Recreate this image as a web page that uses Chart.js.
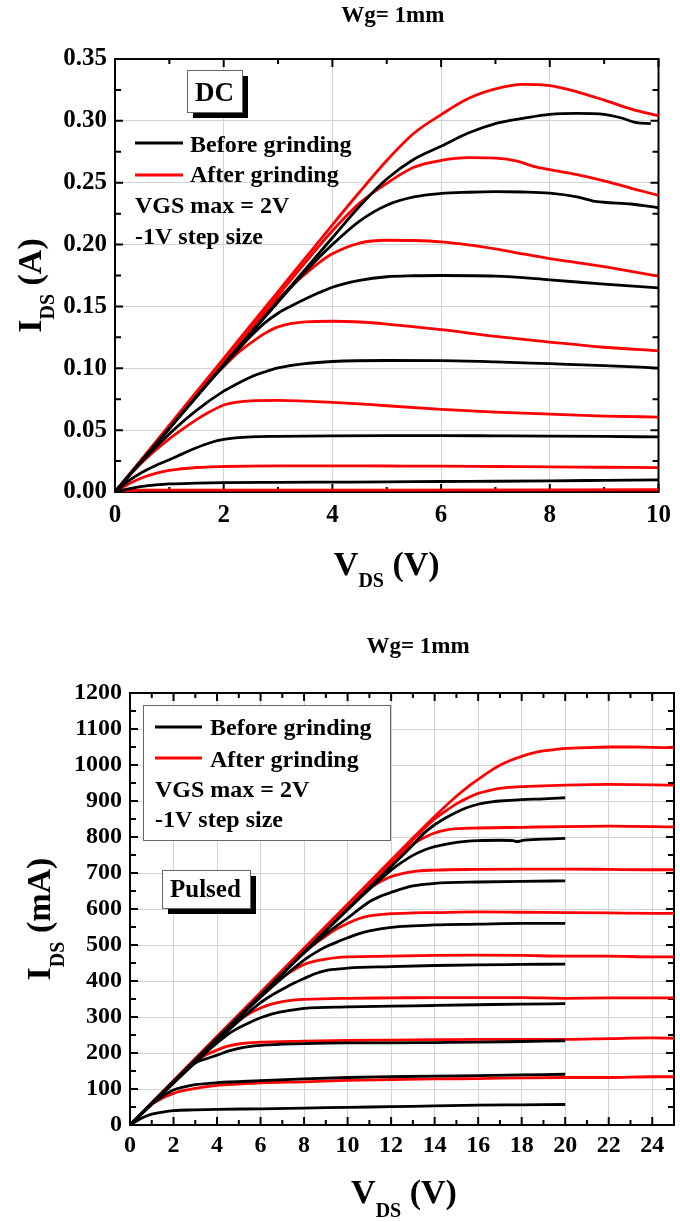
<!DOCTYPE html>
<html><head><meta charset="utf-8">
<script src="https://cdn.jsdelivr.net/npm/chart.js@4.4.1/dist/chart.umd.min.js"></script>
<style>
html,body{margin:0;padding:0;background:#fff;width:680px;height:1222px;overflow:hidden}
.box{position:absolute;left:0;width:680px;height:611px}
canvas{display:block}
</style></head><body>
<div class="box" style="top:0"><canvas id="dc" width="680" height="611"></canvas></div>
<div class="box" style="top:611px"><canvas id="pu" width="680" height="611"></canvas></div>
<script>
const FONT = "'Liberation Serif','Times New Roman',Times,serif";

// ---------- DC (VDS in V, IDS in A) ----------
const dcXTicks = [0,2,4,6,8,10];
const dcYTicks = [0,0.05,0.10,0.15,0.20,0.25,0.30,0.35];
const dcXMinor = [1,3,5,7,9];
const dcYMinor = [0.025,0.075,0.125,0.175,0.225,0.275,0.325];

const dcBefore1 = [[0,0],[0.25,0.0025],[0.5,0.0045],[0.75,0.0057],[1,0.0065],[1.5,0.0071],[2,0.0075],[3,0.0078],[4,0.008],[5,0.0082],[6,0.0085],[7,0.0087],[8,0.009],[9,0.0094],[10,0.0098]];
const dcBefore2 = [[0,0],[0.25,0.009],[0.5,0.016],[0.75,0.0215],[1,0.026],[1.25,0.031],[1.5,0.0358],[1.75,0.0398],[2,0.0425],[2.5,0.0446],[3,0.045],[4,0.0454],[5,0.0456],[6,0.0456],[7,0.0454],[8,0.0452],[9,0.0449],[10,0.0445]];
const dcBefore3 = [[0,0],[0.5,0.025],[1,0.047],[1.5,0.066],[2,0.0815],[2.25,0.0875],[2.5,0.093],[2.75,0.097],[3,0.1003],[3.5,0.1038],[4,0.1055],[5,0.1063],[6,0.1062],[7,0.1052],[8,0.1037],[9,0.1022],[10,0.1002]];
const dcBefore4 = [[0,0],[0.5,0.0257],[1,0.0513],[1.5,0.077],[2,0.102],[2.5,0.126],[2.75,0.1365],[3,0.1445],[3.25,0.1505],[3.5,0.156],[3.75,0.161],[4,0.1655],[4.5,0.171],[5,0.174],[5.5,0.1748],[6,0.175],[7,0.1745],[8,0.1715],[9,0.168],[10,0.165]];
const dcBefore5 = [[0,0],[0.5,0.0257],[1,0.0515],[1.5,0.0772],[2,0.103],[2.5,0.1285],[3,0.1535],[3.5,0.178],[4,0.2],[4.5,0.219],[5,0.2318],[5.5,0.2385],[6,0.2413],[6.5,0.2423],[7,0.2428],[7.5,0.2425],[8,0.2415],[8.5,0.2385],[8.8,0.2352],[9,0.2342],[9.5,0.2328],[10,0.2297]];
const dcBefore6 = [[0,0],[1,0.0515],[2,0.103],[3,0.1545],[3.5,0.18],[4,0.2055],[4.5,0.231],[5,0.253],[5.5,0.269],[6,0.2795],[6.5,0.2902],[7,0.2978],[7.3,0.3005],[7.5,0.302],[8,0.3052],[8.5,0.306],[9,0.3052],[9.3,0.3025],[9.6,0.2985],[9.86,0.2978]];
const dcAfter0 = [[0,0],[0.5,0.0015],[5,0.0015],[10,0.0018]];
const dcAfter1 = [[0,0],[0.25,0.0065],[0.5,0.0115],[0.75,0.015],[1,0.0174],[1.5,0.0198],[2,0.0206],[3,0.0211],[4,0.0211],[5,0.021],[6,0.0209],[7,0.0206],[8,0.0203],[9,0.02],[10,0.0197]];
const dcAfter2 = [[0,0],[0.25,0.0125],[0.5,0.024],[0.75,0.034],[1,0.043],[1.25,0.051],[1.5,0.0585],[1.75,0.065],[2,0.0703],[2.25,0.0727],[2.5,0.0737],[3,0.074],[3.5,0.0734],[4,0.0725],[4.5,0.0713],[5,0.0697],[6,0.0668],[7,0.0645],[8,0.063],[9,0.0614],[10,0.0606]];
const dcAfter3 = [[0,0],[0.5,0.0265],[1,0.053],[1.5,0.079],[1.75,0.091],[2,0.1015],[2.25,0.112],[2.5,0.1205],[2.75,0.128],[3,0.1335],[3.5,0.1375],[4,0.138],[4.5,0.1374],[5,0.1357],[6,0.1312],[7,0.1258],[8,0.1212],[9,0.117],[10,0.1142]];
const dcAfter4 = [[0,0],[0.5,0.0265],[1,0.053],[1.5,0.0795],[2,0.106],[2.5,0.1315],[3,0.156],[3.25,0.1665],[3.5,0.1762],[3.75,0.1852],[4,0.1925],[4.5,0.2012],[5,0.2035],[5.5,0.2033],[6,0.2022],[6.5,0.1998],[7,0.1965],[7.5,0.1925],[8,0.1887],[8.5,0.1855],[9,0.1822],[9.5,0.1783],[10,0.1745]];
const dcAfter5 = [[0,0],[1,0.053],[2,0.106],[3,0.159],[3.5,0.1855],[4,0.2112],[4.5,0.2335],[5,0.2495],[5.5,0.2625],[6,0.268],[6.5,0.2702],[7,0.2698],[7.4,0.2675],[7.7,0.2632],[8,0.2605],[8.5,0.2565],[9,0.2515],[9.5,0.2455],[10,0.2398]];
const dcAfter6 = [[0,0],[1,0.054],[2,0.108],[3,0.162],[3.5,0.189],[4,0.216],[4.5,0.2425],[5,0.268],[5.5,0.29],[6,0.305],[6.5,0.318],[7,0.3258],[7.5,0.3295],[8,0.3285],[8.5,0.3235],[9,0.3168],[9.5,0.3095],[10,0.304]];

// ---------- Pulsed (VDS in V, IDS in mA) ----------
const puXTicks = [0,2,4,6,8,10,12,14,16,18,20,22,24];
const puYTicks = [0,100,200,300,400,500,600,700,800,900,1000,1100,1200];
const puXMinor = [1,3,5,7,9,11,13,15,17,19,21,23];
const puYMinor = [50,150,250,350,450,550,650,750,850,950,1050,1150];

const puBefore1 = [[0,0],[0.5,18],[1,30],[1.5,36],[2,40],[3,42],[4,43.5],[6,45],[8,47],[10,49],[12,51],[14,53],[16,55],[18,56],[20,57]];
const puBefore2 = [[0,0],[0.5,30],[1,58],[1.5,80],[2,97],[2.5,106],[3,112],[4,117.5],[6,123],[8,128],[10,132],[12,134],[14,136],[16,137],[18,139],[20,141]];
const puBefore3 = [[0,0],[1,59],[2,118],[3,172],[3.5,184],[4,194],[4.5,205],[5,213],[6,221],[8,226],[10,228],[12,228],[14,229],[16,230],[18,232],[20,234]];
const puBefore4 = [[0,0],[1,58],[2,116],[3,174],[4,228],[4.5,252],[5,270],[5.5,285],[6,298],[6.5,308],[7,315],[7.5,320],[8,324],[10,328],[12,330],[14,332],[16,334],[18,336],[20,337]];
const puBefore5 = [[0,0],[2,118],[4,234],[6,340],[6.5,360],[7,377],[7.5,393],[8,407],[8.5,420],[9,429],[9.5,433],[10,436],[12,440],[14,443],[16,445],[18,446],[20,447]];
const puBefore6 = [[0,0],[2,119],[4,238],[6,355],[8,458],[8.5,478],[9,495],[9.5,508],[10,520],[10.5,531],[11,539],[11.5,545],[12,549],[13,553],[14,556],[16,558],[18,560],[20,560]];
const puBefore7 = [[0,0],[2,120],[4,240],[6,360],[8,478],[9,530],[10,575],[10.5,598],[11,620],[11.5,635],[12,646],[13,664],[14,671],[16,675],[18,677],[20,678]];
const puBefore8 = [[0,0],[2,120],[4,240],[6,360],[8,480],[10,598],[11,655],[12,708],[12.5,730],[13,749],[13.5,763],[14,773],[15,785],[16,790],[17,791],[17.6,790],[17.8,787],[18,790],[19,794],[20,796]];
const puBefore9 = [[0,0],[2,120],[4,240],[6,360],[8,480],[10,600],[12,718],[13,778],[13.5,810],[14,834],[14.5,853],[15,869],[15.5,882],[16,891],[16.7,898],[17,900],[18,904],[19,906],[20,909]];
const puAfter1 = [[0,0],[0.5,30],[1,57],[1.5,75],[2,88],[2.5,96],[3,102],[4,110],[6,117],[8,120],[10,124],[12,126],[14,128],[16,129],[18,131],[20,132],[22,132],[24,134],[25,134]];
const puAfter2 = [[0,0],[1,60],[2,120],[3,176],[3.5,195],[4,208],[4.5,219],[5,225],[6,230],[8,233],[10,235],[12,236],[14,237],[16,238],[18,238],[20,238],[22,240],[24,242],[25,241]];
const puAfter3 = [[0,0],[1,60],[2,121],[3,181],[4,240],[5,290],[5.5,310],[6,325],[6.5,336],[7,343],[7.5,347],[8,349],[10,352],[12,353],[14,354],[16,354],[18,354],[20,352],[22,353],[24,353],[25,353]];
const puAfter4 = [[0,0],[2,121],[4,242],[6,360],[6.5,388],[7,410],[7.5,430],[8,446],[8.5,455],[9,461],[9.5,465],[10,467],[12,469],[14,471],[16,472],[18,471],[20,469],[22,469],[24,467],[25,467]];
const puAfter5 = [[0,0],[2,121],[4,242],[6,363],[8,480],[9,525],[9.5,545],[10,560],[10.5,573],[11,581],[12,587],[13,589],[14,590],[16,592],[18,591],[20,590],[22,589],[24,588],[25,588]];
const puAfter6 = [[0,0],[2,122],[4,244],[6,366],[8,488],[10,605],[10.5,633],[11,658],[11.5,676],[12,690],[13,704],[14,708],[16,710],[18,711],[20,711],[22,710],[24,709],[25,709]];
const puAfter7 = [[0,0],[2,122],[4,244],[6,366],[8,488],[10,610],[11,668],[12,726],[12.5,755],[13,780],[13.5,798],[14,811],[14.5,819],[15,823],[16,825],[18,827],[20,829],[22,830],[24,829],[25,828]];
const puAfter8 = [[0,0],[2,122],[4,245],[6,367],[8,490],[10,612],[12,733],[13,792],[14,850],[14.5,872],[15,892],[15.5,908],[16,921],[16.5,929],[17,935],[18,940],[19,942],[20,944],[22,946],[24,945],[25,944]];
const puAfter9 = [[0,0],[2,123],[4,246],[6,368],[8,491],[10,613],[12,736],[13,797],[14,857],[15,913],[15.5,938],[16,960],[16.5,981],[17,999],[17.5,1013],[18,1024],[18.5,1033],[19,1039],[19.5,1043],[20,1046],[21,1048],[22,1050],[23,1050],[24,1049],[25,1048]];

const BLACK = '#000000', RED = '#ff0000';

function ds(arr, color, w) {
  return { data: arr.map(p => ({x: p[0], y: p[1]})), borderColor: color, backgroundColor: color,
    borderWidth: w, pointRadius: 0, fill: false, cubicInterpolationMode: 'monotone' };
}
function font(size) { return `bold ${size}px ${FONT}`; }

function drawRich(ctx, parts, x, y) {
  let total = 0;
  parts.forEach(p => { ctx.font = font(p[1]); p.w = ctx.measureText(p[0]).width; total += p.w; });
  let cx = x - total / 2;
  ctx.textAlign = 'left'; ctx.textBaseline = 'alphabetic';
  parts.forEach(p => { ctx.font = font(p[1]); ctx.fillText(p[0], cx, y + p[2]); cx += p.w; });
}

function shadowBox(ctx, x, y, w, h, off) {
  ctx.fillStyle = '#000'; ctx.fillRect(x + off, y + off, w, h);
  ctx.fillStyle = '#fff'; ctx.fillRect(x, y, w, h);
  ctx.strokeStyle = '#666'; ctx.lineWidth = 1; ctx.strokeRect(x + 0.5, y + 0.5, w, h);
}

function framePlugin(cfg) {
  return {
    id: 'frame',
    beforeDatasetsDraw(chart) {
      const {ctx, chartArea: a, scales: {x, y}} = chart;
      ctx.save();
      ctx.strokeStyle = '#000'; ctx.lineWidth = 2;
      ctx.beginPath();
      const tx = (vals, len) => vals.forEach(v => { const p = x.getPixelForValue(v);
        ctx.moveTo(p, a.bottom); ctx.lineTo(p, a.bottom - len); ctx.moveTo(p, a.top); ctx.lineTo(p, a.top + len); });
      const ty = (vals, len) => vals.forEach(v => { const p = y.getPixelForValue(v);
        ctx.moveTo(a.left, p); ctx.lineTo(a.left + len, p); ctx.moveTo(a.right, p); ctx.lineTo(a.right - len, p); });
      tx(cfg.xMajor, 8); tx(cfg.xMinor, 5); ty(cfg.yMajor, 8); ty(cfg.yMinor, 6);
      ctx.stroke();
      ctx.lineWidth = 2;
      ctx.strokeRect(a.left, a.top, a.right - a.left, a.bottom - a.top);
      ctx.restore();
    },
    afterDraw(chart) {
      const {ctx, chartArea: a} = chart;
      ctx.save();
      ctx.fillStyle = '#000';
      cfg.decor(ctx, a);
      ctx.restore();
    }
  };
}

function makeChart(id, o) {
  const fmt = o.fmt;
  return new Chart(document.getElementById(id), {
    type: 'line',
    data: { datasets: o.datasets },
    options: {
      responsive: false, animation: false, events: [],
      layout: { padding: o.padding },
      plugins: { legend: { display: false }, tooltip: { enabled: false }, title: { display: false } },
      scales: {
        x: { type: 'linear', min: o.xMin, max: o.xMax,
          afterBuildTicks: s => { s.ticks = o.xTicks.map(v => ({value: v})); },
          afterFit: s => { s.height = o.xHeight; },
          ticks: { font: { family: FONT, size: o.tickSize, weight: 'bold' }, color: '#000', padding: o.xPad,
            maxRotation: 0, autoSkip: false, includeBounds: false, callback: v => String(v) },
          grid: { color: '#d2d2d2', lineWidth: 1, drawTicks: false }, border: { display: false } },
        y: { type: 'linear', min: o.yMin, max: o.yMax,
          afterBuildTicks: s => { s.ticks = o.yTicks.map(v => ({value: v})); },
          afterFit: s => { s.width = o.yWidth; },
          ticks: { font: { family: FONT, size: o.tickSize, weight: 'bold' }, color: '#000', padding: 8,
            autoSkip: false, includeBounds: false, callback: v => fmt(v) },
          grid: { color: '#d2d2d2', lineWidth: 1, drawTicks: false }, border: { display: false } }
      }
    },
    plugins: [framePlugin(o)]
  });
}

const LW = 2.8;
makeChart('dc', {
  xMin: 0, xMax: 10, yMin: 0, yMax: 0.35, xTicks: dcXTicks, yTicks: dcYTicks,
  xMajor: dcXTicks, xMinor: dcXMinor, yMajor: dcYTicks, yMinor: dcYMinor,
  fmt: v => v.toFixed(2), tickSize: 25, xPad: 9, xHeight: 119, yWidth: 115,
  padding: { left: 0, right: 13, top: 59, bottom: 0 },
  datasets: [dcBefore1, dcBefore2, dcBefore3, dcBefore4, dcBefore5, dcBefore6].map(d => ds(d, BLACK, LW))
    .concat([dcAfter0, dcAfter1, dcAfter2, dcAfter3, dcAfter4, dcAfter5, dcAfter6].map(d => ds(d, RED, LW))),
  decor(ctx, a) {
    const cx = (a.left + a.right) / 2, cy = (a.top + a.bottom) / 2;
    ctx.textAlign = 'center'; ctx.font = font(23); ctx.fillText('Wg= 1mm', cx + 6, 22);
    drawRich(ctx, [['V', 34, 0], ['DS', 20, 12], [' (V)', 34, 0]], cx, 575);
    ctx.save(); ctx.translate(41, cy + 10); ctx.rotate(-Math.PI / 2);
    drawRich(ctx, [['I', 34, 0], ['DS', 20, 13], [' (A)', 34, 0]], 0, 0); ctx.restore();
    shadowBox(ctx, a.left + 72, a.top + 11, 55, 42, 6);
    ctx.fillStyle = '#000'; ctx.textAlign = 'center'; ctx.font = font(27);
    ctx.fillText('DC', a.left + 99.5, a.top + 42);
    ctx.lineWidth = 3;
    ctx.strokeStyle = BLACK; ctx.beginPath(); ctx.moveTo(a.left + 20, a.top + 84); ctx.lineTo(a.left + 68, a.top + 84); ctx.stroke();
    ctx.strokeStyle = RED; ctx.beginPath(); ctx.moveTo(a.left + 20, a.top + 116); ctx.lineTo(a.left + 68, a.top + 116); ctx.stroke();
    ctx.textAlign = 'left'; ctx.font = font(24);
    ctx.fillText('Before grinding', a.left + 75, a.top + 93);
    ctx.fillText('After grinding', a.left + 75, a.top + 123);
    ctx.fillText('VGS max = 2V', a.left + 20, a.top + 154);
    ctx.fillText('-1V step size', a.left + 20, a.top + 185);
  }
});

makeChart('pu', {
  xMin: 0, xMax: 25, yMin: 0, yMax: 1200, xTicks: puXTicks, yTicks: puYTicks,
  xMajor: puXTicks, xMinor: puXMinor, yMajor: puYTicks, yMinor: puYMinor,
  fmt: v => String(v), tickSize: 24, xPad: 6, xHeight: 97, yWidth: 130,
  padding: { left: 0, right: 6, top: 82, bottom: 0 },
  datasets: [puBefore1, puBefore2, puBefore3, puBefore4, puBefore5, puBefore6, puBefore7, puBefore8, puBefore9].map(d => ds(d, BLACK, LW))
    .concat([puAfter1, puAfter2, puAfter3, puAfter4, puAfter5, puAfter6, puAfter7, puAfter8, puAfter9].map(d => ds(d, RED, LW))),
  decor(ctx, a) {
    const cx = (a.left + a.right) / 2, cy = (a.top + a.bottom) / 2;
    ctx.textAlign = 'center'; ctx.font = font(23); ctx.fillText('Wg= 1mm', cx + 16, 42);
    drawRich(ctx, [['V', 34, 0], ['DS', 20, 14], [' (V)', 34, 0]], cx + 2, 592);
    ctx.save(); ctx.translate(50, cy + 10); ctx.rotate(-Math.PI / 2);
    drawRich(ctx, [['I', 34, 0], ['DS', 20, 14], [' (mA)', 34, 0]], 0, 0); ctx.restore();
    // legend box
    ctx.fillStyle = '#fff'; ctx.fillRect(a.left + 13, a.top + 12, 247, 135);
    ctx.strokeStyle = '#666'; ctx.lineWidth = 1; ctx.strokeRect(a.left + 13.5, a.top + 12.5, 247, 135);
    ctx.lineWidth = 3;
    ctx.strokeStyle = BLACK; ctx.beginPath(); ctx.moveTo(a.left + 25, a.top + 34); ctx.lineTo(a.left + 72, a.top + 34); ctx.stroke();
    ctx.strokeStyle = RED; ctx.beginPath(); ctx.moveTo(a.left + 25, a.top + 65); ctx.lineTo(a.left + 72, a.top + 65); ctx.stroke();
    ctx.fillStyle = '#000'; ctx.textAlign = 'left'; ctx.font = font(24);
    ctx.fillText('Before grinding', a.left + 80, a.top + 42);
    ctx.fillText('After grinding', a.left + 80, a.top + 74);
    ctx.fillText('VGS max = 2V', a.left + 25, a.top + 104);
    ctx.fillText('-1V step size', a.left + 25, a.top + 134);
    shadowBox(ctx, a.left + 32, a.top + 177, 88, 38, 6);
    ctx.fillStyle = '#000'; ctx.font = font(25); ctx.textAlign = 'left';
    ctx.fillText('Pulsed', a.left + 40, a.top + 204);
  }
});
</script>
</body></html>
